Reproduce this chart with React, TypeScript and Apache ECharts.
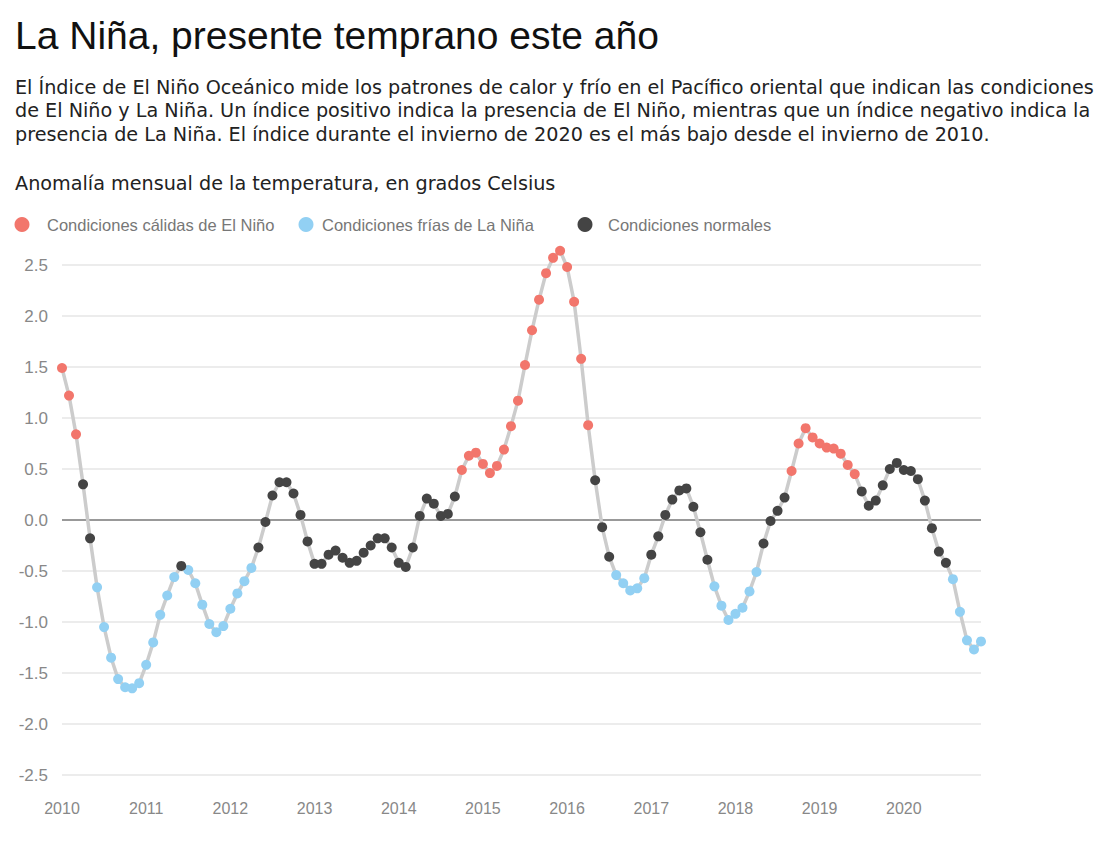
import React, { useEffect, useRef } from "react";
import * as echarts from "echarts";

const years = [2010, 2011, 2012, 2013, 2014, 2015, 2016, 2017, 2018, 2019, 2020];

const v2010 = [1.49, 1.22, 0.84, 0.35, -0.18, -0.66, -1.05, -1.35, -1.56, -1.64, -1.65, -1.6];
const v2011 = [-1.42, -1.2, -0.93, -0.74, -0.56, -0.45, -0.49, -0.62, -0.83, -1.02, -1.1, -1.04];
const v2012 = [-0.87, -0.72, -0.6, -0.47, -0.27, -0.02, 0.24, 0.37, 0.37, 0.26, 0.05, -0.21];
const v2013 = [-0.43, -0.43, -0.34, -0.3, -0.37, -0.42, -0.4, -0.32, -0.25, -0.18, -0.18, -0.27];
const v2014 = [-0.42, -0.46, -0.27, 0.04, 0.21, 0.16, 0.04, 0.06, 0.23, 0.49, 0.63, 0.66];
const v2015 = [0.55, 0.46, 0.53, 0.69, 0.92, 1.17, 1.52, 1.86, 2.16, 2.42, 2.57, 2.64];
const v2016 = [2.48, 2.14, 1.58, 0.93, 0.39, -0.07, -0.36, -0.54, -0.62, -0.69, -0.67, -0.57];
const v2017 = [-0.34, -0.16, 0.05, 0.2, 0.29, 0.31, 0.13, -0.12, -0.39, -0.65, -0.84, -0.98];
const v2018 = [-0.92, -0.86, -0.7, -0.51, -0.23, -0.01, 0.09, 0.22, 0.48, 0.75, 0.9, 0.81];
const v2019 = [0.75, 0.71, 0.7, 0.65, 0.54, 0.45, 0.28, 0.14, 0.19, 0.34, 0.5, 0.56];
const v2020 = [0.49, 0.48, 0.4, 0.19, -0.08, -0.31, -0.42, -0.58, -0.9, -1.18, -1.27, -1.19];

// c = El Niño (cálida), f = La Niña (fría), n = normal
const cond2010 = "cccnnfffffff";
const cond2011 = "fffffnffffff";
const cond2012 = "ffffnnnnnnnn";
const cond2013 = "nnnnnnnnnnnn";
const cond2014 = "nnnnnnnnnccc";
const cond2015 = "cccccccccccc";
const cond2016 = "ccccnnnfffff";
const cond2017 = "nnnnnnnnnfff";
const cond2018 = "ffffnnnncccc";
const cond2019 = "ccccccnnnnnn";
const cond2020 = "nnnnnnnfffff";

const yTicks = [-2.5, -2.0, -1.5, -1.0, -0.5, 0.0, 0.5, 1.0, 1.5, 2.0, 2.5];

const seriesNames = [
  "Condiciones cálidas de El Niño",
  "Condiciones frías de La Niña",
  "Condiciones normales",
];
const seriesCodes = ["c", "f", "n"];
const seriesColors = ["#f2766c", "#92d0f3", "#444444"];

const title = "La Niña, presente temprano este año";
const descLines = [
  "El Índice de El Niño Oceánico mide los patrones de calor y frío en el Pacífico oriental que indican las condiciones",
  "de El Niño y La Niña. Un índice positivo indica la presencia de El Niño, mientras que un índice negativo indica la",
  "presencia de La Niña. El índice durante el invierno de 2020 es el más bajo desde el invierno de 2010.",
];
const axisTitle = "Anomalía mensual de la temperatura, en grados Celsius";

export default function App() {
  const ref = useRef<HTMLDivElement>(null);
  useEffect(() => {
    if (!ref.current) return;
    const chart = echarts.init(ref.current, undefined, { renderer: "svg" });
    const values = [v2010, v2011, v2012, v2013, v2014, v2015, v2016, v2017, v2018, v2019, v2020].flat();
    const conds = [cond2010, cond2011, cond2012, cond2013, cond2014, cond2015, cond2016, cond2017, cond2018, cond2019, cond2020].join("");
    const cats: string[] = [];
    years.forEach((y) => {
      for (let m = 1; m <= 12; m++) cats.push(`${y}-${m < 10 ? "0" + m : m}`);
    });

    const fontSans = "'Liberation Sans', Arial, Helvetica, sans-serif";
    const fontText = "'DejaVu Sans', Verdana, sans-serif";
    const scatterSeries = seriesCodes.map((code, k) => ({
      name: seriesNames[k],
      type: "scatter",
      symbol: "circle",
      symbolSize: 10,
      clip: false,
      z: 3,
      itemStyle: { color: seriesColors[k], opacity: 1 },
      data: values.map((v, i) => (conds[i] === code ? v : "-")),
    }));

    const legendLefts = [9.5, 293.5, 572.5];
    const legendPads = [12.5, 3.5, 10.5];

    chart.setOption({
      animation: false,
      backgroundColor: "#ffffff",
      graphic: [
        {
          type: "text",
          left: 15,
          top: 16,
          style: { text: title, font: `39px ${fontSans}`, fill: "#111" },
        },
        ...descLines.map((t, i) => ({
          type: "text",
          left: 15,
          top: 77.5 + i * 23.6,
          style: { text: t, font: `19.2px ${fontText}`, fill: "#222" },
        })),
        {
          type: "text",
          left: 15,
          top: 174,
          style: { text: axisTitle, font: `19.2px ${fontText}`, fill: "#222" },
        },
      ],
      legend: seriesNames.map((n, k) => ({
        data: [n],
        left: legendLefts[k],
        top: 211,
        icon: "circle",
        itemWidth: 15,
        itemHeight: 15,
        selectedMode: false,
        textStyle: {
          color: "#777",
          fontSize: 16.5,
          fontFamily: fontSans,
          padding: [0, 0, 0, legendPads[k]],
        },
      })),
      grid: { left: 62, right: 129, top: 265, bottom: 87 },
      xAxis: {
        type: "category",
        data: cats,
        boundaryGap: false,
        axisLine: { show: false },
        axisTick: { show: false },
        splitLine: { show: false },
        axisLabel: {
          interval: (i: number, v: string) => v.endsWith("-01"),
          formatter: (v: string) => v.slice(0, 4),
          color: "#888",
          fontSize: 16,
          fontFamily: fontSans,
          margin: 25,
        },
      },
      yAxis: {
        type: "value",
        min: yTicks[0],
        max: yTicks[yTicks.length - 1],
        interval: 0.5,
        axisLine: { show: false },
        axisTick: { show: false },
        axisLabel: {
          formatter: (v: number) => v.toFixed(1),
          color: "#888",
          fontSize: 17,
          fontFamily: fontSans,
          margin: 14,
        },
        splitLine: { lineStyle: { color: "#e6e6e6", width: 1.5 } },
      },
      series: [
        {
          name: "ONI",
          type: "line",
          data: values,
          symbol: "none",
          clip: false,
          z: 2,
          lineStyle: { color: "#cccccc", width: 3.5 },
          markLine: {
            silent: true,
            symbol: "none",
            label: { show: false },
            lineStyle: { color: "#999", width: 2, type: "solid" },
            data: [{ yAxis: 0 }],
            z: 1,
          },
        },
        ...scatterSeries,
      ],
    });
    return () => chart.dispose();
  }, []);
  return (
    <div
      ref={ref}
      style={{ position: "absolute", left: 0, top: 0, width: 1110, height: 862 }}
    />
  );
}
